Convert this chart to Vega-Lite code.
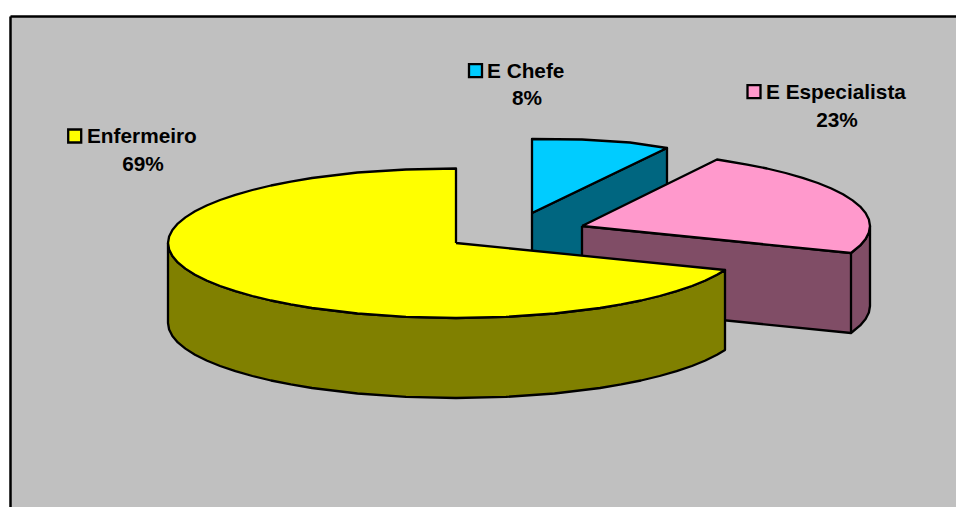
{
  "$schema": "https://vega.github.io/schema/vega-lite/v6.json",
  "width": 966,
  "height": 501,
  "padding": {"left": 10, "top": 16, "right": 0, "bottom": 0},
  "autosize": {"type": "none"},
  "background": "white",
  "view": {"fill": "#C0C0C0", "stroke": null},
  "config": {"font": "Liberation Sans", "axis": {"title": null, "labels": false, "ticks": false, "grid": false, "domain": true, "domainColor": "black", "domainWidth": 2.5}},
  "datasets": {
    "outline": [
      {"part":"1 E Chefe side","i":0,"x":532,"y":213},{"part":"1 E Chefe side","i":1,"x":667,"y":148},{"part":"1 E Chefe side","i":2,"x":667,"y":228},{"part":"1 E Chefe side","i":3,"x":532,"y":293},{"part":"1 E Chefe side","i":4,"x":532,"y":213},
      {"part":"2 E Chefe top","i":0,"x":532,"y":213},{"part":"2 E Chefe top","i":1,"x":532,"y":139},{"part":"2 E Chefe top","i":2,"x":582,"y":139.5},{"part":"2 E Chefe top","i":3,"x":630,"y":142.5},{"part":"2 E Chefe top","i":4,"x":667,"y":148},{"part":"2 E Chefe top","i":5,"x":532,"y":213},
      {"part":"3 E Especialista side","i":0,"x":582,"y":226},{"part":"3 E Especialista side","i":1,"x":851,"y":253},{"part":"3 E Especialista side","i":2,"x":860.2,"y":245.4},{"part":"3 E Especialista side","i":3,"x":865.6,"y":239},{"part":"3 E Especialista side","i":4,"x":868.9,"y":232.5},{"part":"3 E Especialista side","i":5,"x":870,"y":226},{"part":"3 E Especialista side","i":6,"x":870,"y":306},{"part":"3 E Especialista side","i":7,"x":868.9,"y":312.5},{"part":"3 E Especialista side","i":8,"x":865.6,"y":319},{"part":"3 E Especialista side","i":9,"x":860.2,"y":325.4},{"part":"3 E Especialista side","i":10,"x":851,"y":333},{"part":"3 E Especialista side","i":11,"x":582,"y":306},{"part":"3 E Especialista side","i":12,"x":582,"y":226},
      {"part":"4 E Especialista edge","i":0,"x":851,"y":253},{"part":"4 E Especialista edge","i":1,"x":851,"y":333},
      {"part":"5 E Especialista top","i":0,"x":582,"y":226},{"part":"5 E Especialista top","i":1,"x":717,"y":159.5},{"part":"5 E Especialista top","i":2,"x":726,"y":161},{"part":"5 E Especialista top","i":3,"x":747.2,"y":164.6},{"part":"5 E Especialista top","i":4,"x":767,"y":168.5},{"part":"5 E Especialista top","i":5,"x":785.6,"y":173},{"part":"5 E Especialista top","i":6,"x":802.6,"y":177.8},{"part":"5 E Especialista top","i":7,"x":817.9,"y":183},{"part":"5 E Especialista top","i":8,"x":831.4,"y":188.5},{"part":"5 E Especialista top","i":9,"x":843,"y":194.3},{"part":"5 E Especialista top","i":10,"x":852.6,"y":200.4},{"part":"5 E Especialista top","i":11,"x":860.2,"y":206.6},{"part":"5 E Especialista top","i":12,"x":865.6,"y":213},{"part":"5 E Especialista top","i":13,"x":868.9,"y":219.5},{"part":"5 E Especialista top","i":14,"x":870,"y":226},{"part":"5 E Especialista top","i":15,"x":868.9,"y":232.5},{"part":"5 E Especialista top","i":16,"x":865.6,"y":239},{"part":"5 E Especialista top","i":17,"x":860.2,"y":245.4},{"part":"5 E Especialista top","i":18,"x":851,"y":253},{"part":"5 E Especialista top","i":19,"x":582,"y":226},
      {"part":"6 Enfermeiro side","i":0,"x":168,"y":243},{"part":"6 Enfermeiro side","i":1,"x":169.1,"y":249.5},{"part":"6 Enfermeiro side","i":2,"x":172.4,"y":256},{"part":"6 Enfermeiro side","i":3,"x":177.8,"y":262.4},{"part":"6 Enfermeiro side","i":4,"x":185.4,"y":268.6},{"part":"6 Enfermeiro side","i":5,"x":195,"y":274.7},{"part":"6 Enfermeiro side","i":6,"x":206.6,"y":280.5},{"part":"6 Enfermeiro side","i":7,"x":220.1,"y":286},{"part":"6 Enfermeiro side","i":8,"x":235.4,"y":291.2},{"part":"6 Enfermeiro side","i":9,"x":252.4,"y":296},{"part":"6 Enfermeiro side","i":10,"x":271,"y":300.5},{"part":"6 Enfermeiro side","i":11,"x":290.8,"y":304.4},{"part":"6 Enfermeiro side","i":12,"x":312,"y":308},{"part":"6 Enfermeiro side","i":13,"x":357.5,"y":313.5},{"part":"6 Enfermeiro side","i":14,"x":406,"y":316.9},{"part":"6 Enfermeiro side","i":15,"x":456,"y":318},{"part":"6 Enfermeiro side","i":16,"x":506,"y":316.9},{"part":"6 Enfermeiro side","i":17,"x":554.5,"y":313.5},{"part":"6 Enfermeiro side","i":18,"x":600,"y":308},{"part":"6 Enfermeiro side","i":19,"x":621.2,"y":304.4},{"part":"6 Enfermeiro side","i":20,"x":641,"y":300.5},{"part":"6 Enfermeiro side","i":21,"x":659.6,"y":296},{"part":"6 Enfermeiro side","i":22,"x":676.6,"y":291.2},{"part":"6 Enfermeiro side","i":23,"x":691.9,"y":286},{"part":"6 Enfermeiro side","i":24,"x":705.4,"y":280.5},{"part":"6 Enfermeiro side","i":25,"x":717,"y":274.7},{"part":"6 Enfermeiro side","i":26,"x":725,"y":270},{"part":"6 Enfermeiro side","i":27,"x":725,"y":350},{"part":"6 Enfermeiro side","i":28,"x":717,"y":354.7},{"part":"6 Enfermeiro side","i":29,"x":705.4,"y":360.5},{"part":"6 Enfermeiro side","i":30,"x":691.9,"y":366},{"part":"6 Enfermeiro side","i":31,"x":676.6,"y":371.2},{"part":"6 Enfermeiro side","i":32,"x":659.6,"y":376},{"part":"6 Enfermeiro side","i":33,"x":641,"y":380.5},{"part":"6 Enfermeiro side","i":34,"x":621.2,"y":384.4},{"part":"6 Enfermeiro side","i":35,"x":600,"y":388},{"part":"6 Enfermeiro side","i":36,"x":554.5,"y":393.5},{"part":"6 Enfermeiro side","i":37,"x":506,"y":396.9},{"part":"6 Enfermeiro side","i":38,"x":456,"y":398},{"part":"6 Enfermeiro side","i":39,"x":406,"y":396.9},{"part":"6 Enfermeiro side","i":40,"x":357.5,"y":393.5},{"part":"6 Enfermeiro side","i":41,"x":312,"y":388},{"part":"6 Enfermeiro side","i":42,"x":290.8,"y":384.4},{"part":"6 Enfermeiro side","i":43,"x":271,"y":380.5},{"part":"6 Enfermeiro side","i":44,"x":252.4,"y":376},{"part":"6 Enfermeiro side","i":45,"x":235.4,"y":371.2},{"part":"6 Enfermeiro side","i":46,"x":220.1,"y":366},{"part":"6 Enfermeiro side","i":47,"x":206.6,"y":360.5},{"part":"6 Enfermeiro side","i":48,"x":195,"y":354.7},{"part":"6 Enfermeiro side","i":49,"x":185.4,"y":348.6},{"part":"6 Enfermeiro side","i":50,"x":177.8,"y":342.4},{"part":"6 Enfermeiro side","i":51,"x":172.4,"y":336},{"part":"6 Enfermeiro side","i":52,"x":169.1,"y":329.5},{"part":"6 Enfermeiro side","i":53,"x":168,"y":323},{"part":"6 Enfermeiro side","i":54,"x":168,"y":243},
      {"part":"7 Enfermeiro top","i":0,"x":456,"y":243},{"part":"7 Enfermeiro top","i":1,"x":456,"y":168.5},{"part":"7 Enfermeiro top","i":2,"x":406,"y":169.5},{"part":"7 Enfermeiro top","i":3,"x":357.5,"y":172.5},{"part":"7 Enfermeiro top","i":4,"x":312,"y":178},{"part":"7 Enfermeiro top","i":5,"x":290.8,"y":181.6},{"part":"7 Enfermeiro top","i":6,"x":271,"y":185.5},{"part":"7 Enfermeiro top","i":7,"x":252.4,"y":190},{"part":"7 Enfermeiro top","i":8,"x":235.4,"y":194.8},{"part":"7 Enfermeiro top","i":9,"x":220.1,"y":200},{"part":"7 Enfermeiro top","i":10,"x":206.6,"y":205.5},{"part":"7 Enfermeiro top","i":11,"x":195,"y":211.3},{"part":"7 Enfermeiro top","i":12,"x":185.4,"y":217.4},{"part":"7 Enfermeiro top","i":13,"x":177.8,"y":223.6},{"part":"7 Enfermeiro top","i":14,"x":172.4,"y":230},{"part":"7 Enfermeiro top","i":15,"x":169.1,"y":236.5},{"part":"7 Enfermeiro top","i":16,"x":168,"y":243},{"part":"7 Enfermeiro top","i":17,"x":169.1,"y":249.5},{"part":"7 Enfermeiro top","i":18,"x":172.4,"y":256},{"part":"7 Enfermeiro top","i":19,"x":177.8,"y":262.4},{"part":"7 Enfermeiro top","i":20,"x":185.4,"y":268.6},{"part":"7 Enfermeiro top","i":21,"x":195,"y":274.7},{"part":"7 Enfermeiro top","i":22,"x":206.6,"y":280.5},{"part":"7 Enfermeiro top","i":23,"x":220.1,"y":286},{"part":"7 Enfermeiro top","i":24,"x":235.4,"y":291.2},{"part":"7 Enfermeiro top","i":25,"x":252.4,"y":296},{"part":"7 Enfermeiro top","i":26,"x":271,"y":300.5},{"part":"7 Enfermeiro top","i":27,"x":290.8,"y":304.4},{"part":"7 Enfermeiro top","i":28,"x":312,"y":308},{"part":"7 Enfermeiro top","i":29,"x":357.5,"y":313.5},{"part":"7 Enfermeiro top","i":30,"x":406,"y":316.9},{"part":"7 Enfermeiro top","i":31,"x":456,"y":318},{"part":"7 Enfermeiro top","i":32,"x":506,"y":316.9},{"part":"7 Enfermeiro top","i":33,"x":554.5,"y":313.5},{"part":"7 Enfermeiro top","i":34,"x":600,"y":308},{"part":"7 Enfermeiro top","i":35,"x":621.2,"y":304.4},{"part":"7 Enfermeiro top","i":36,"x":641,"y":300.5},{"part":"7 Enfermeiro top","i":37,"x":659.6,"y":296},{"part":"7 Enfermeiro top","i":38,"x":676.6,"y":291.2},{"part":"7 Enfermeiro top","i":39,"x":691.9,"y":286},{"part":"7 Enfermeiro top","i":40,"x":705.4,"y":280.5},{"part":"7 Enfermeiro top","i":41,"x":717,"y":274.7},{"part":"7 Enfermeiro top","i":42,"x":725,"y":270},{"part":"7 Enfermeiro top","i":43,"x":456,"y":243}
    ],
    "labels": [
      {"category":"E Chefe","share":"8%","kx":475.5,"ky":70.7,"nx":487,"ny":71.5,"sx":527,"sy":99},
      {"category":"E Especialista","share":"23%","kx":754,"ky":91.7,"nx":766,"ny":93,"sx":837,"sy":121},
      {"category":"Enfermeiro","share":"69%","kx":74.7,"ky":136,"nx":87,"ny":137,"sx":143,"sy":165}
    ]
  },
  "resolve": {"scale": {"fill": "independent"}},
  "layer": [
    {
      "data": {"name": "outline"},
      "mark": {"type": "line", "stroke": "black", "strokeWidth": 2.3, "strokeJoin": "round"},
      "encoding": {
        "x": {"field": "x", "type": "quantitative", "scale": {"domain": [10, 976], "nice": false, "zero": false}, "axis": {"orient": "top"}},
        "y": {"field": "y", "type": "quantitative", "scale": {"domain": [517, 16], "nice": false, "zero": false}, "axis": {"orient": "left"}},
        "order": {"field": "i", "type": "quantitative"},
        "fill": {
          "field": "part",
          "type": "nominal",
          "legend": null,
          "scale": {
            "domain": ["1 E Chefe side","2 E Chefe top","3 E Especialista side","4 E Especialista edge","5 E Especialista top","6 Enfermeiro side","7 Enfermeiro top"],
            "range": ["#006680","#00CCFF","#804D66","#804D66","#FF99CC","#808000","#FFFF00"]
          }
        }
      }
    },
    {
      "data": {"name": "labels"},
      "mark": {"type": "point", "shape": "square", "filled": true, "size": 169, "stroke": "black", "strokeWidth": 2.3, "opacity": 1},
      "encoding": {
        "x": {"field": "kx", "type": "quantitative", "scale": {"domain": [10, 976], "nice": false, "zero": false}, "axis": {"orient": "top"}},
        "y": {"field": "ky", "type": "quantitative", "scale": {"domain": [517, 16], "nice": false, "zero": false}, "axis": {"orient": "left"}},
        "fill": {
          "field": "category",
          "type": "nominal",
          "legend": null,
          "scale": {"domain": ["E Chefe","E Especialista","Enfermeiro"], "range": ["#00CCFF","#FF99CC","#FFFF00"]}
        }
      }
    },
    {
      "data": {"name": "labels"},
      "mark": {"type": "text", "align": "left", "baseline": "middle", "font": "Liberation Sans", "fontWeight": "bold", "fontSize": 20.8, "color": "black"},
      "encoding": {
        "x": {"field": "nx", "type": "quantitative", "scale": {"domain": [10, 976], "nice": false, "zero": false}, "axis": {"orient": "top"}},
        "y": {"field": "ny", "type": "quantitative", "scale": {"domain": [517, 16], "nice": false, "zero": false}, "axis": {"orient": "left"}},
        "text": {"field": "category"}
      }
    },
    {
      "data": {"name": "labels"},
      "mark": {"type": "text", "align": "center", "baseline": "middle", "font": "Liberation Sans", "fontWeight": "bold", "fontSize": 20.8, "color": "black"},
      "encoding": {
        "x": {"field": "sx", "type": "quantitative", "scale": {"domain": [10, 976], "nice": false, "zero": false}, "axis": {"orient": "top"}},
        "y": {"field": "sy", "type": "quantitative", "scale": {"domain": [517, 16], "nice": false, "zero": false}, "axis": {"orient": "left"}},
        "text": {"field": "share"}
      }
    }
  ]
}
